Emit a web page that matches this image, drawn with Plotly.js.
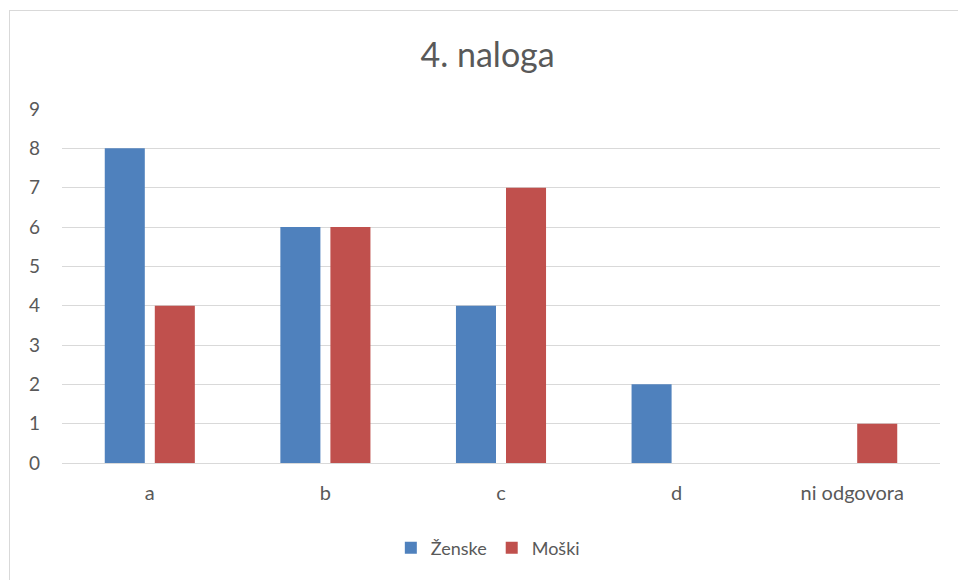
<!DOCTYPE html>
<html>
<head>
<meta charset="utf-8">
<script src="https://cdn.plot.ly/plotly-3.0.1.min.js"></script>
<style>
  html, body { margin: 0; padding: 0; background: #fff; overflow: hidden; }
  #chart { width: 958px; height: 580px; position: absolute; left: 0; top: 0; }
  #frame { position: absolute; left: 9px; top: 10px; width: 1000px; height: 1000px; border: 1px solid #d9d9d9; pointer-events: none; }
</style>
</head>
<body>
<div id="chart"></div>
<div id="frame"></div>
<script>
const categories = ["a", "b", "c", "d", "ni odgovora"];
const zenske = [8, 6, 4, 2, 0];
const moski = [4, 6, 7, 0, 1];
const yTicks = [0, 1, 2, 3, 4, 5, 6, 7, 8, 9];

const FONT = "Lato, 'Open Sans', sans-serif";

const traces = [
  { type: "bar", name: "Ženske", x: categories, y: zenske, marker: { color: "#4F81BD" }, hoverinfo: "y" },
  { type: "bar", name: "Moški", x: categories, y: moski, marker: { color: "#C0504D" }, hoverinfo: "y" }
];

const layout = {
  width: 958, height: 580,
  paper_bgcolor: "rgba(0,0,0,0)",
  plot_bgcolor: "#fff",
  margin: { l: 62, r: 18, t: 109, b: 117 },
  barmode: "group",
  bargap: 0.43,
  bargroupgap: 0.2,
  title: { text: "4. naloga", font: { family: FONT, size: 34, color: "#595959" }, x: 0.509, xanchor: "center", y: 0.905, yanchor: "middle" },
  xaxis: {
    type: "category",
    showgrid: false, zeroline: false, showline: false,
    ticks: "", ticklabelstandoff: 16,
    tickfont: { family: FONT, size: 20, color: "#595959" }
  },
  yaxis: {
    range: [0, 9],
    tickvals: yTicks,
    showgrid: true, gridcolor: "#d9d9d9", gridwidth: 1,
    zeroline: true, zerolinecolor: "#d9d9d9", zerolinewidth: 1,
    showline: false, ticks: "",
    ticklabelstandoff: 21,
    tickfont: { family: FONT, size: 19, color: "#595959" }
  },
  legend: {
    orientation: "h", x: 0.485, xanchor: "center", y: -0.24, yanchor: "middle",
    font: { family: FONT, size: 18, color: "#595959" },
    itemwidth: 30, tracegroupgap: 0
  },
  showlegend: true
};

Plotly.newPlot("chart", traces, layout, { displayModeBar: false, staticPlot: true });
</script>
</body>
</html>
